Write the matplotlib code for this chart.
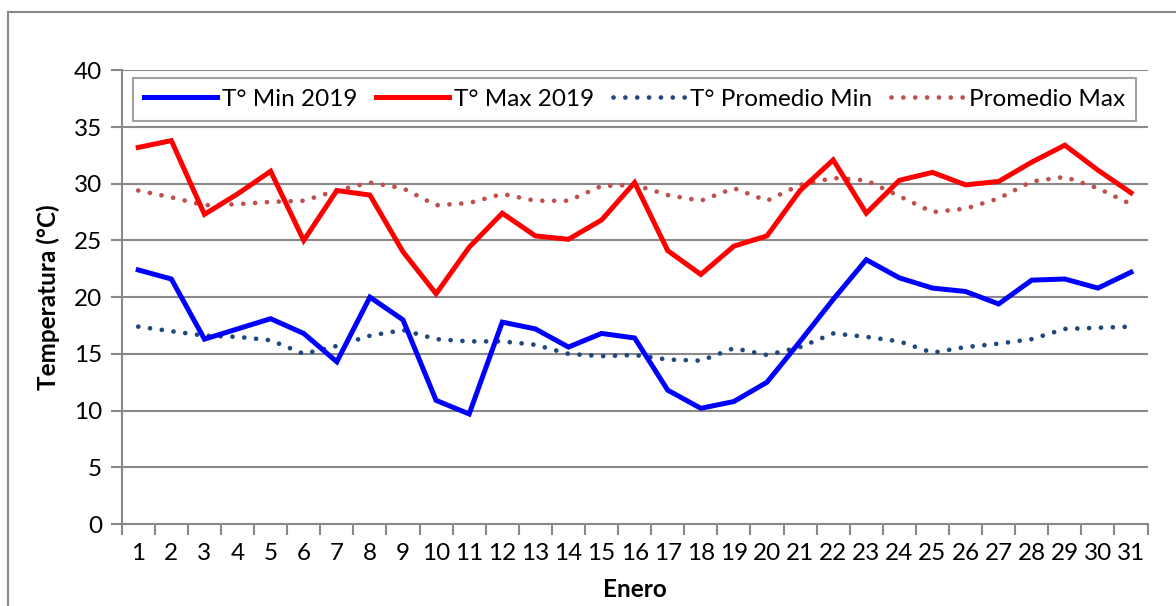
import matplotlib
matplotlib.use('Agg')
import matplotlib.pyplot as plt
from matplotlib.lines import Line2D

plt.rcParams['font.family'] = ['Lato', 'DejaVu Sans']

dias = list(range(1, 32))
t_min_2019 = [22.4, 21.6, 16.3, 17.2, 18.1, 16.8, 14.3, 20.0, 18.0, 10.9,
              9.7, 17.8, 17.2, 15.6, 16.8, 16.4, 11.8, 10.2, 10.8, 12.5,
              16.1, 19.8, 23.3, 21.7, 20.8, 20.5, 19.4, 21.5, 21.6, 20.8,
              22.2]
t_max_2019 = [33.2, 33.8, 27.3, 29.1, 31.1, 25.0, 29.4, 29.0, 24.0, 20.3,
              24.4, 27.4, 25.4, 25.1, 26.8, 30.1, 24.1, 22.0, 24.5, 25.4,
              29.4, 32.1, 27.4, 30.3, 31.0, 29.9, 30.2, 31.9, 33.4, 31.2,
              29.2]
prom_min = [17.4, 17.0, 16.6, 16.5, 16.2, 15.0, 15.7, 16.6, 17.1, 16.3,
            16.1, 16.1, 15.8, 15.0, 14.8, 14.9, 14.5, 14.4, 15.5, 14.9,
            15.6, 16.8, 16.5, 16.1, 15.1, 15.6, 15.9, 16.3, 17.2, 17.3,
            17.4]
prom_max = [29.4, 28.8, 28.1, 28.2, 28.4, 28.5, 29.4, 30.1, 29.6, 28.1,
            28.3, 29.1, 28.5, 28.5, 29.8, 29.9, 29.0, 28.5, 29.6, 28.5,
            29.9, 30.5, 30.3, 28.9, 27.5, 27.8, 28.7, 30.2, 30.6, 29.6,
            28.2]
etiquetas = ['T° Min 2019', 'T° Max 2019', 'T° Promedio Min', 'Promedio Max']

gris = '#898989'
fs = 17.5

fig = plt.figure(figsize=(11.76, 6.06), dpi=100)
ax = fig.add_axes([0.1035, 0.1353, 0.8723, 0.7487])

ax.plot(dias, t_min_2019, color='#0000FF', lw=3.6, solid_joinstyle='miter', label=etiquetas[0], zorder=4)
ax.plot(dias, t_max_2019, color='#FF0000', lw=3.6, solid_joinstyle='miter', label=etiquetas[1], zorder=4)
ax.plot(dias, prom_min, color='#1F497D', lw=3.4, linestyle=(0, (0.01, 2.5)),
        dash_capstyle='round', label=etiquetas[2], zorder=3)
ax.plot(dias, prom_max, color='#C0504D', lw=3.4, linestyle=(0, (0.01, 2.5)),
        dash_capstyle='round', label=etiquetas[3], zorder=3)

ax.set_xlim(0.5, 31.5)
ax.set_ylim(0, 40)
ax.set_yticks(range(0, 41, 5))
ax.grid(axis='y', color=gris, lw=1.5)
ax.set_axisbelow(True)

# ticks at category boundaries, labels at centres
ax.set_xticks([d + 0.5 for d in range(0, 32)])
ax.set_xticklabels([])
ax.set_xticks(dias, minor=True)
ax.set_xticklabels([str(d) for d in dias], minor=True)
ax.tick_params(axis='x', which='major', length=8, width=1.5, color=gris)
ax.tick_params(axis='x', which='minor', length=0, pad=14, labelsize=fs)
ax.tick_params(axis='y', length=8, width=1.5, color=gris, labelsize=fs, pad=6)

for s in ['top', 'right']:
    ax.spines[s].set_visible(False)
for s in ['left', 'bottom']:
    ax.spines[s].set_color(gris)
    ax.spines[s].set_linewidth(1.5)

ax.set_ylabel('Temperatura (°C)', fontsize=fs, fontweight='bold', labelpad=10)
ax.set_xlabel('Enero', fontsize=fs, fontweight='bold', labelpad=10)

leg = fig.legend(loc='upper left', bbox_to_anchor=(0.1131, 0.8713 - 0.0693, 0.853, 0.0693),
                 mode='expand', ncol=4, fontsize=fs, handlelength=3.0, handletextpad=0.2,
                 fancybox=False, edgecolor=gris, borderaxespad=0, borderpad=0.45)
leg.get_frame().set_linewidth(1.5)

# outer chart border
fig.add_artist(Line2D([8 / 1176, 8 / 1176], [0, 1 - 12 / 606], color=gris, lw=1.5))
fig.add_artist(Line2D([8 / 1176, 1], [1 - 12 / 606, 1 - 12 / 606], color=gris, lw=1.5))

fig.savefig('out.png', dpi=100)
